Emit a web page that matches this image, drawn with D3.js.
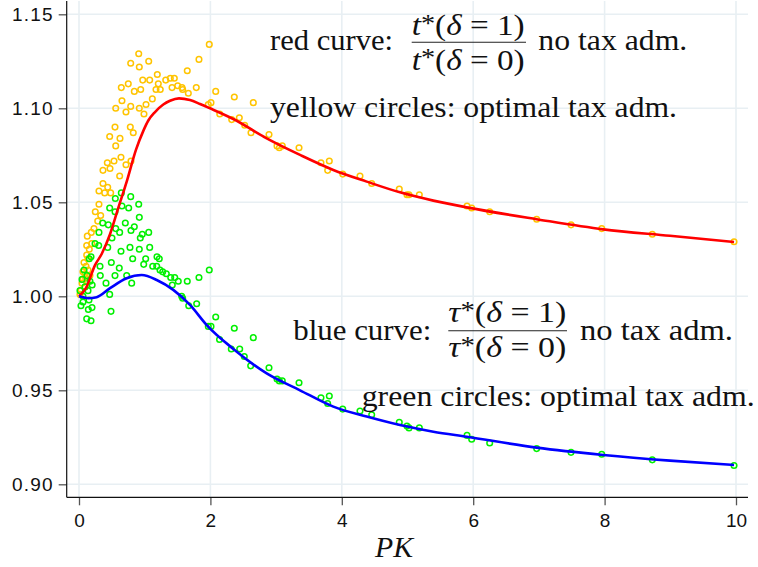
<!DOCTYPE html>
<html><head><meta charset="utf-8">
<script src="https://cdn.jsdelivr.net/npm/d3@7"></script>
<style>body{margin:0;background:#fff}</style>
</head><body>
<script>
// ---------- data ----------
const xTicks = [0, 2, 4, 6, 8, 10];
const yTicks = [0.90, 0.95, 1.00, 1.05, 1.10, 1.15];
const yTickLabels = ["0.90", "0.95", "1.00", "1.05", "1.10", "1.15"];

const redX = [0,0.107,0.244,0.345,0.472,0.598,0.726,0.868,0.979,1.055,1.157,1.283,1.385,1.522,1.689,1.842,1.994,2.349,2.857,3.364,3.871,4.379,4.886,5.393,5.901,6.966,7.98,8.995,9.97];
const redY = [1.000,1.0045,1.0166,1.0225,1.033,1.047,1.061,1.078,1.088,1.0935,1.098,1.102,1.104,1.1053,1.1044,1.1023,1.100,1.0943,1.084,1.0752,1.0672,1.061,1.0553,1.0509,1.0473,1.041,1.0356,1.0322,1.0289];

const blueX = [0,0.142,0.269,0.472,0.726,0.954,1.183,1.435,1.689,1.944,2.349,2.857,3.364,3.871,4.379,4.886,5.393,5.901,6.966,7.98,8.995,9.97];
const blueY = [1.000,0.999,0.9995,1.0043,1.0096,1.0113,1.0087,1.0034,0.9954,0.9847,0.972,0.959,0.950,0.9413,0.936,0.9315,0.928,0.9253,0.9195,0.9156,0.9126,0.9103];

const yellowX = [1.983,1.826,1.648,1.785,2.081,2.364,2.653,0.909,0.787,0.918,1.061,1.192,0.970,1.076,1.207,0.750,0.644,0.842,0.939,1.172,1.237,1.320,1.390,1.451,1.416,1.502,1.568,1.578,1.664,1.968,2.009,2.142,2.324,2.440,2.522,2.618,0.654,0.559,0.787,0.918,1.020,1.116,0.715,0.989,0.548,0.781,0.826,0.467,0.624,0.559,0.639,0.533,0.431,0.715,0.791,0.472,0.365,0.619,0.365,0.304,0.391,0.482,0.437,0.304,0.248,0.330,0.285,0.228,0.187,0.126,0.193,0.157,0.117,0.117,0.137,0.076,0.107,0.137,0.091,0.167,0.061,0.122,0.046,0.091,0.030,0.015,0.060,0.100,2.892,3.014,3.094,3.049,3.349,3.683,3.810,3.785,4.014,4.277,4.455,4.875,4.992,5.023,5.180,5.906,5.977,6.251,6.966,7.489,7.956,8.726,9.970];
const yellowY = [1.134,1.126,1.120,1.111,1.109,1.106,1.103,1.129,1.124,1.122,1.125,1.118,1.115,1.115,1.113,1.113,1.111,1.109,1.110,1.110,1.110,1.115,1.116,1.116,1.111,1.112,1.111,1.110,1.108,1.102,1.103,1.097,1.094,1.095,1.091,1.087,1.104,1.100,1.101,1.100,1.102,1.105,1.098,1.097,1.090,1.090,1.087,1.085,1.084,1.080,1.074,1.072,1.071,1.070,1.072,1.068,1.067,1.064,1.060,1.056,1.055,1.055,1.058,1.049,1.045,1.043,1.040,1.036,1.034,1.032,1.028,1.025,1.022,1.027,1.020,1.018,1.016,1.014,1.012,1.011,1.009,1.008,1.007,1.005,1.003,1.001,1.013,1.010,1.086,1.080,1.080,1.079,1.079,1.071,1.072,1.067,1.065,1.064,1.060,1.057,1.054,1.054,1.054,1.048,1.047,1.045,1.041,1.038,1.036,1.033,1.029];

const greenX = [1.983,1.826,1.648,1.791,2.081,2.364,2.653,1.968,2.009,2.139,2.318,2.446,2.516,2.613,2.892,3.014,3.094,3.049,3.349,3.683,3.810,3.785,4.014,4.277,4.455,4.875,4.992,5.023,5.180,5.906,5.977,6.251,6.966,7.489,7.956,8.726,9.970,0.644,0.787,0.553,0.654,0.756,0.909,0.467,0.548,0.918,0.361,0.446,0.705,0.842,0.791,0.559,0.619,0.304,0.502,1.061,0.933,0.963,0.244,0.300,0.639,0.776,0.918,1.076,1.187,1.222,0.817,1.015,0.437,0.985,1.122,1.183,1.233,1.274,1.329,1.396,1.457,1.511,1.420,1.563,1.578,1.670,0.492,0.324,0.613,0.726,0.411,0.802,0.467,0.487,0.142,0.198,0.117,0.183,0.030,0.061,0.152,0.157,0.320,0.548,0.183,0.076,0.122,0.046,0.167,0.091,0.015,0.137,0.061,0.200];
const greenY = [1.014,1.010,1.008,0.996,0.989,0.983,0.978,0.984,0.984,0.977,0.972,0.972,0.968,0.963,0.962,0.956,0.955,0.955,0.954,0.946,0.947,0.943,0.940,0.939,0.937,0.933,0.931,0.930,0.930,0.926,0.924,0.922,0.919,0.917,0.916,0.913,0.910,1.055,1.053,1.052,1.048,1.047,1.049,1.047,1.045,1.042,1.039,1.038,1.039,1.037,1.035,1.036,1.034,1.034,1.031,1.034,1.031,1.033,1.028,1.027,1.024,1.026,1.025,1.026,1.021,1.020,1.020,1.020,1.026,1.017,1.016,1.016,1.014,1.013,1.012,1.010,1.010,1.008,1.006,1.000,0.999,0.995,1.018,1.011,1.015,1.011,1.007,1.007,1.001,0.992,0.993,0.994,0.988,0.987,0.995,0.997,0.998,1.020,1.016,1.011,1.021,1.014,1.011,1.009,1.008,1.005,1.003,1.003,1.000,1.006];

// ---------- layout ----------
const W = 758, H = 567;
const frame = {left: 66.7, right: 748, top: 1, bottom: 497.3};
const x = d3.scaleLinear().domain([0, 10]).range([79, 736]);
const y = d3.scaleLinear().domain([0.90, 1.15]).range([484.3, 14.3]);

const svg = d3.select("body").append("svg").attr("width", W).attr("height", H);

// gridlines
const grid = svg.append("g").attr("stroke", "#e8eff3").attr("stroke-width", 1.6);
grid.selectAll("line.v").data(xTicks).join("line")
  .attr("x1", d => x(d)).attr("x2", d => x(d)).attr("y1", frame.top).attr("y2", frame.bottom);
grid.selectAll("line.h").data(yTicks).join("line")
  .attr("y1", d => y(d)).attr("y2", d => y(d)).attr("x1", frame.left).attr("x2", frame.right);

// axes via d3
const sans = "'Liberation Sans', Arial, Helvetica, sans-serif";
const yAxis = d3.axisLeft(y).tickValues(yTicks).tickFormat((d, i) => yTickLabels[i]).tickSize(8).tickPadding(6);
const gy = svg.append("g").attr("transform", `translate(${frame.left},0)`).call(yAxis);
gy.select(".domain").remove();
gy.selectAll(".tick line").attr("stroke", "#555").attr("stroke-width", 1.3);
gy.selectAll(".tick text").attr("font-family", sans).attr("font-size", 19).attr("fill", "#111")
  .attr("dy", "0.35em").attr("letter-spacing", "1.2px").attr("dx", "1px");

const xAxis = d3.axisBottom(x).tickValues(xTicks).tickFormat(d3.format("d")).tickSize(8).tickPadding(8);
const gx = svg.append("g").attr("transform", `translate(0,${frame.bottom})`).call(xAxis);
gx.select(".domain").remove();
gx.selectAll(".tick line").attr("stroke", "#555").attr("stroke-width", 1.3);
gx.selectAll(".tick text").attr("font-family", sans).attr("font-size", 19).attr("fill", "#111");

// frame lines (left & bottom)
svg.append("line").attr("x1", frame.left).attr("x2", frame.left).attr("y1", frame.top).attr("y2", frame.bottom)
  .attr("stroke", "#111").attr("stroke-width", 1.2);
svg.append("line").attr("x1", frame.left).attr("x2", frame.right).attr("y1", frame.bottom).attr("y2", frame.bottom)
  .attr("stroke", "#111").attr("stroke-width", 1.2);

// scatter
const yellowPts = yellowX.map((v, i) => [v, yellowY[i]]);
const greenPts = greenX.map((v, i) => [v, greenY[i]]);
svg.append("g").selectAll("circle").data(yellowPts).join("circle")
  .attr("cx", d => x(d[0])).attr("cy", d => y(d[1])).attr("r", 2.8)
  .attr("fill", "none").attr("stroke", "#ffc400").attr("stroke-width", 1.5);
svg.append("g").selectAll("circle").data(greenPts).join("circle")
  .attr("cx", d => x(d[0])).attr("cy", d => y(d[1])).attr("r", 2.8)
  .attr("fill", "none").attr("stroke", "#00f000").attr("stroke-width", 1.5);

// curves
const line = d3.line().x(d => x(d[0])).y(d => y(d[1])).curve(d3.curveMonotoneX);
svg.append("path").datum(redX.map((v, i) => [v, redY[i]])).attr("d", line)
  .attr("fill", "none").attr("stroke", "#ff0000").attr("stroke-width", 2.6).attr("stroke-linejoin", "round");
svg.append("path").datum(blueX.map((v, i) => [v, blueY[i]])).attr("d", line)
  .attr("fill", "none").attr("stroke", "#0000ff").attr("stroke-width", 2.6).attr("stroke-linejoin", "round");

// ---------- annotations ----------
const serif = "'Liberation Serif', 'Times New Roman', serif";
function mtext(xp, base, width, parts, size) {
  const t = svg.append("text").attr("x", xp).attr("y", base)
    .attr("font-family", serif).attr("font-size", size).attr("fill", "#111");
  parts.forEach(p => {
    const s = t.append("tspan").text(p.t);
    if (p.i) s.attr("font-style", "italic");
    if (p.sup) s.attr("dy", -size * 0.12).attr("font-size", size * 0.85);
    if (p.unsup) s.attr("dy", size * 0.12);
  });
  if (width) t.attr("textLength", width).attr("lengthAdjust", "spacingAndGlyphs");
  return t;
}
const FS = 29;
const frac = (sym, num) => [{t: sym, i: 1}, {t: "*", sup: 1}, {t: "(", unsup: 1}, {t: "δ", i: 1}, {t: " = " + num + ")"}];

// red block
mtext(270, 50, 123, [{t: "red curve:"}], FS);
mtext(411.7, 35, 113, frac("t", 1), FS);
svg.append("line").attr("x1", 411.7).attr("x2", 526).attr("y1", 42.3).attr("y2", 42.3).attr("stroke", "#222").attr("stroke-width", 1.1);
mtext(411.7, 69.5, 113, frac("t", 0), FS);
mtext(538.3, 50, 149, [{t: "no tax adm."}], FS);
mtext(270, 117, 407, [{t: "yellow circles: optimal tax adm."}], FS);

// blue block
mtext(293.3, 340, 138, [{t: "blue curve:"}], FS);
mtext(448.3, 322, 118, frac("τ", 1), FS);
svg.append("line").attr("x1", 448.3).attr("x2", 567).attr("y1", 330.7).attr("y2", 330.7).attr("stroke", "#222").attr("stroke-width", 1.1);
mtext(448.3, 357, 118, frac("τ", 0), FS);
mtext(580, 340, 153, [{t: "no tax adm."}], FS);
mtext(361.7, 406, 393, [{t: "green circles: optimal tax adm."}], FS);

// x axis title
svg.append("text").attr("x", 375).attr("y", 557).attr("font-family", serif).attr("font-style", "italic")
  .attr("font-size", 29).attr("fill", "#111").attr("textLength", 38).attr("lengthAdjust", "spacingAndGlyphs").text("PK");
</script>
</body></html>
